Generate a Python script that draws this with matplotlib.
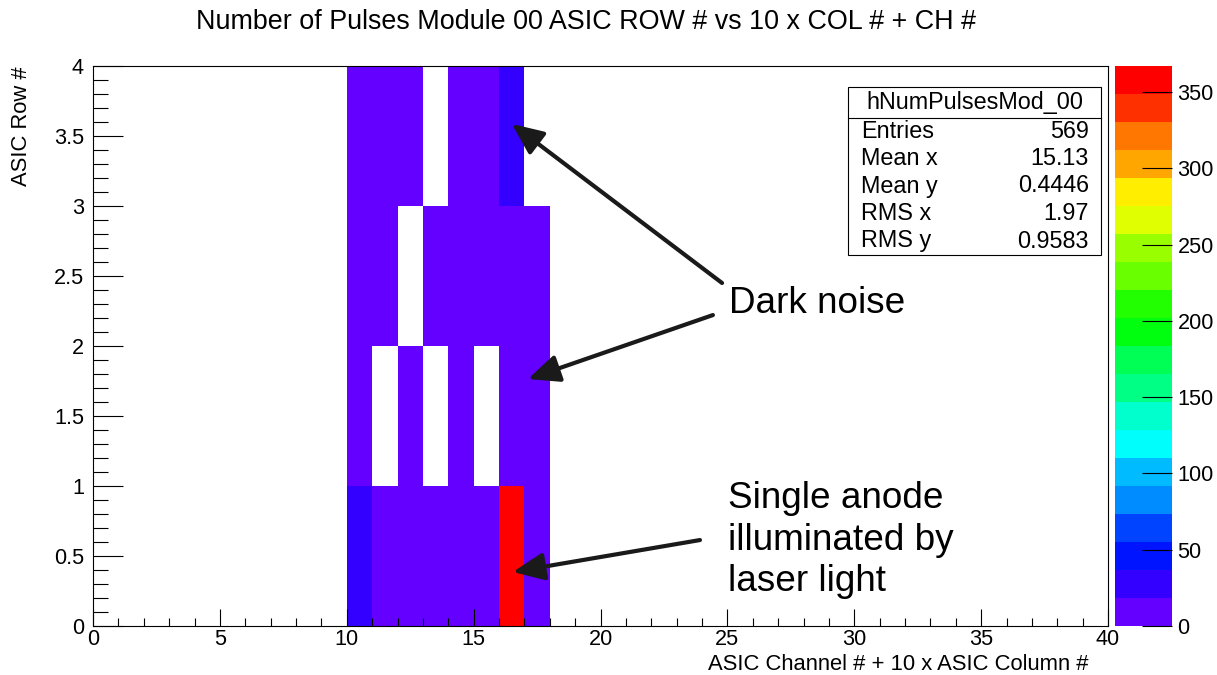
import colorsys
import numpy as np
import matplotlib
matplotlib.use("Agg")
import matplotlib.pyplot as plt
from matplotlib.colors import ListedColormap, BoundaryNorm
from matplotlib.patches import Rectangle
from matplotlib.lines import Line2D
from matplotlib.ticker import MultipleLocator, FuncFormatter

plt.rcParams['font.family'] = ['Liberation Sans', 'DejaVu Sans']

# bins filled: x = ASIC channel + 10 x ASIC column, one list per ASIC row
channels = [10, 11, 12, 13, 14, 15, 16, 17]
row_0 = [22, 8, 9, 10, 9, 10, 367, 12]
row_1 = [4, 0, 4, 0, 4, 0, 4, 5]
row_2 = [10, 10, 0, 10, 10, 10, 10, 11]
row_3 = [2, 2, 2, 0, 2, 2, 20, 0]

stat_names = ["Entries", "Mean x", "Mean y", "RMS x", "RMS y"]
stat_values = ["569", "15.13", "0.4446", "1.97", "0.9583"]

W, H = 1217, 675
def fx(px): return px / W
def fy(py): return 1 - py / H

counts = np.zeros((4, 40))
for r, row in enumerate([row_0, row_1, row_2, row_3]):
	counts[r, channels] = row
counts = np.ma.masked_equal(counts, 0)

# ROOT "pretty" palette, 20 contour levels
n_cont = 20
zmax = counts.max()
cols = []
for k in range(n_cont):
	idx = int((k + 0.99) * 50 / n_cont)
	hue = 280 - (idx + 1) * 5.6
	cols.append(colorsys.hls_to_rgb(hue / 360.0, 0.5, 1.0))
cmap = ListedColormap(cols)
levels = np.linspace(0, zmax, n_cont + 1)
norm = BoundaryNorm(levels, cmap.N)

TICK_FS = 15.6
LAB_FS = 15.8

fig = plt.figure(figsize=(W / 100, H / 100), dpi=100)
ax = fig.add_axes([fx(93), fy(626), (1108 - 93) / W, (626 - 66) / H])
mesh = ax.pcolormesh(np.arange(41), np.arange(5), counts, cmap=cmap, norm=norm)
ax.set_xlim(0, 40)
ax.set_ylim(0, 4)

for s in ax.spines.values():
	s.set_linewidth(0.8)
ax.xaxis.set_major_locator(MultipleLocator(5))
ax.xaxis.set_minor_locator(MultipleLocator(1))
ax.yaxis.set_major_locator(MultipleLocator(0.5))
ax.yaxis.set_minor_locator(MultipleLocator(0.1))
ax.yaxis.set_major_formatter(FuncFormatter(lambda v, p: "%g" % v))
ax.tick_params(axis='x', which='major', direction='in', length=12.2, width=0.8, top=False, labelsize=TICK_FS, pad=2)
ax.tick_params(axis='x', which='minor', direction='in', length=6.1, width=0.8, top=False)
ax.tick_params(axis='y', which='major', direction='in', length=21.6, width=0.8, right=False, labelsize=TICK_FS, pad=6.5)
ax.tick_params(axis='y', which='minor', direction='in', length=10.8, width=0.8, right=False)

# palette axis
cax = fig.add_axes([fx(1115), fy(626), (1172 - 1115) / W, (626 - 66) / H])
cb = fig.colorbar(mesh, cax=cax, ticks=np.arange(0, 351, 50))
cb.outline.set_visible(False)
cax.minorticks_off()
cax.tick_params(direction='in', length=21.6, width=0.8, labelsize=TICK_FS, pad=4, right=True, left=False)

fig.text(fx(586), fy(22), "Number of Pulses Module 00 ASIC ROW # vs 10 x COL # + CH #",
		 ha='center', va='center', fontsize=19.4)
fig.text(fx(1088), fy(664), "ASIC Channel # + 10 x ASIC Column #", ha='right', va='center', fontsize=LAB_FS)
fig.text(fx(22), fy(66), "ASIC Row #", rotation=90, ha='center', va='top', fontsize=LAB_FS)

# stats box
fig.add_artist(Rectangle((fx(848), fy(255)), (1101 - 848) / W, (255 - 87) / H, transform=fig.transFigure,
						 facecolor='white', edgecolor='black', lw=0.8, zorder=5))
fig.add_artist(Line2D([fx(848), fx(1101)], [fy(118), fy(118)], transform=fig.transFigure,
					  color='black', lw=0.8, zorder=6))
fig.text(fx(975), fy(102), "hNumPulsesMod_00", ha='center', va='center', fontsize=16.8, zorder=7)
for i, (n, v) in enumerate(zip(stat_names, stat_values)):
	yy = fy(131 + i * 27.5)
	fig.text(fx(861), yy, n, ha='left', va='center', fontsize=16.8, zorder=7)
	fig.text(fx(1089), yy, v, ha='right', va='center', fontsize=16.8, zorder=7)

# annotations
arrow = dict(arrowstyle='-|>,head_length=0.95,head_width=0.42', lw=3, color='#1a1a1a',
			 mutation_scale=20, shrinkA=0, shrinkB=0)
ax.annotate("", xy=(16.51, 3.586), xytext=(24.79, 2.45), arrowprops=arrow)
ax.annotate("", xy=(17.14, 1.764), xytext=(24.43, 2.221), arrowprops=arrow)
ax.annotate("", xy=(16.55, 0.386), xytext=(23.92, 0.614), arrowprops=arrow)
ax.text(25.06, 2.307, "Dark noise", ha='left', va='center', fontsize=26.6)
ax.text(25.02, 0.614, "Single anode\nilluminated by\nlaser light", ha='left', va='center',
		fontsize=26.6, linespacing=1.25)

fig.savefig("out.png", dpi=100)
